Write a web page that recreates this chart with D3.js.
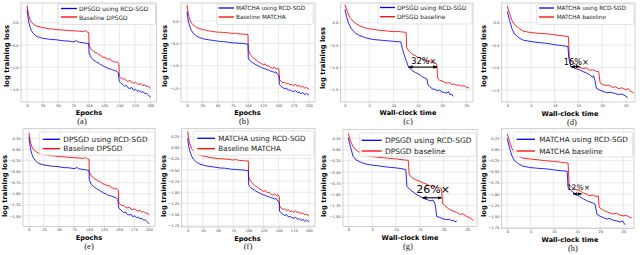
<!DOCTYPE html>
<html>
<head>
<meta charset="utf-8">
<script src="https://cdn.jsdelivr.net/npm/d3@7"></script>
<style>
  body { margin: 0; background: #fff; }
  svg { display: block; }
</style>
</head>
<body>
<div id="chart"></div>
<script>
// ---- data ----
// DPSGD, loss vs epochs
var dpsgdEpochRcd = [[0,0.29],[1,0.17],[2,0.07],[3,-0.01],[5,-0.11],[7,-0.18],[10,-0.24],[13,-0.28],[16,-0.31],[20,-0.33],[25,-0.35],[30,-0.36],[35,-0.37],[40,-0.38],[45,-0.38],[50,-0.39],[55,-0.4],[60,-0.41],[65,-0.41],[70,-0.42],[75,-0.43],[78,-0.42],[80,-0.4],[82,-0.43],[85,-0.44],[90,-0.45],[95,-0.46],[100,-0.47],[100.5,-0.68],[102,-0.73],[104,-0.79],[107,-0.83],[110,-0.86],[113,-0.89],[116,-0.91],[119,-0.94],[122,-0.96],[125,-0.99],[128,-1.0],[131,-1.03],[134,-1.04],[137,-1.05],[140,-1.07],[143,-1.08],[146,-1.1],[148,-1.13],[149.5,-1.32],[152,-1.36],[155,-1.39],[158,-1.43],[161,-1.41],[164,-1.47],[167,-1.48],[170,-1.46],[173,-1.52],[176,-1.5],[179,-1.54],[182,-1.53],[185,-1.57],[188,-1.55],[191,-1.6],[194,-1.59],[197,-1.63],[200,-1.68]];
var dpsgdEpochBase = [[0,0.38],[1,0.28],[2,0.2],[3,0.14],[5,0.06],[7,0.01],[10,-0.03],[13,-0.06],[16,-0.08],[20,-0.09],[25,-0.11],[30,-0.12],[35,-0.14],[40,-0.14],[45,-0.15],[50,-0.16],[55,-0.16],[60,-0.17],[65,-0.17],[70,-0.18],[75,-0.18],[80,-0.19],[85,-0.19],[90,-0.2],[95,-0.18],[97,-0.21],[100,-0.22],[100.5,-0.5],[102,-0.55],[104,-0.6],[107,-0.63],[110,-0.67],[113,-0.68],[116,-0.72],[119,-0.73],[122,-0.77],[125,-0.78],[128,-0.8],[131,-0.82],[134,-0.81],[137,-0.86],[140,-0.87],[143,-0.89],[146,-0.88],[149,-0.92],[149.5,-1.2],[152,-1.24],[155,-1.27],[158,-1.26],[161,-1.31],[164,-1.32],[167,-1.3],[170,-1.35],[173,-1.36],[176,-1.34],[179,-1.38],[182,-1.39],[185,-1.37],[188,-1.42],[191,-1.4],[194,-1.44],[197,-1.43],[200,-1.48]];

// MATCHA, loss vs epochs
var matchaEpochRcd = [[0,0.21],[1,0.09],[2,0.0],[3,-0.06],[5,-0.14],[7,-0.21],[10,-0.27],[13,-0.31],[16,-0.34],[20,-0.37],[25,-0.39],[30,-0.41],[35,-0.42],[40,-0.43],[45,-0.44],[50,-0.45],[55,-0.46],[60,-0.46],[65,-0.47],[70,-0.48],[75,-0.49],[80,-0.49],[85,-0.5],[90,-0.5],[95,-0.51],[100,-0.52],[100.5,-0.82],[102,-0.87],[104,-0.9],[107,-0.93],[110,-0.95],[113,-0.98],[116,-1.0],[119,-1.02],[122,-1.04],[125,-1.06],[128,-1.07],[131,-1.09],[134,-1.1],[137,-1.12],[140,-1.13],[143,-1.15],[146,-1.14],[149,-1.2],[151,-1.24],[151.5,-1.42],[154,-1.46],[157,-1.49],[160,-1.52],[163,-1.5],[166,-1.55],[169,-1.54],[172,-1.57],[175,-1.58],[178,-1.56],[181,-1.6],[184,-1.59],[187,-1.63],[190,-1.6],[193,-1.65],[196,-1.62],[200,-1.66]];
var matchaEpochBase = [[0,0.36],[1,0.25],[2,0.16],[3,0.1],[5,0.02],[7,-0.04],[10,-0.09],[13,-0.12],[16,-0.15],[20,-0.17],[25,-0.19],[30,-0.2],[35,-0.22],[40,-0.23],[45,-0.24],[50,-0.25],[55,-0.25],[60,-0.26],[65,-0.26],[70,-0.27],[75,-0.28],[80,-0.27],[85,-0.29],[90,-0.29],[95,-0.3],[100,-0.3],[100.5,-0.64],[102,-0.7],[104,-0.76],[107,-0.8],[110,-0.84],[113,-0.87],[116,-0.9],[119,-0.93],[122,-0.95],[125,-0.98],[128,-0.96],[131,-1.01],[134,-1.0],[137,-1.04],[140,-1.06],[143,-1.03],[146,-1.08],[149,-1.05],[151,-1.1],[151.5,-1.3],[154,-1.35],[157,-1.38],[160,-1.37],[163,-1.41],[166,-1.39],[169,-1.43],[172,-1.42],[175,-1.45],[178,-1.41],[181,-1.46],[184,-1.44],[187,-1.48],[190,-1.46],[193,-1.5],[196,-1.49],[200,-1.53]];

// DPSGD, loss vs wall-clock time (top row)
var dpsgdTimeRcd = [[0,0.3],[0.3,0.15],[0.7,0.0],[1.2,-0.12],[2,-0.22],[3,-0.29],[4,-0.33],[5,-0.36],[6,-0.38],[7,-0.39],[8,-0.4],[9,-0.41],[10,-0.42],[11,-0.43],[11.5,-0.43],[11.8,-0.58],[12.2,-0.72],[12.6,-0.85],[13.1,-1.0],[13.5,-1.05],[14,-1.09],[14.5,-1.12],[15,-1.15],[15.5,-1.18],[16,-1.22],[16.5,-1.25],[16.9,-1.27],[17.1,-1.4],[17.5,-1.44],[18,-1.49],[18.5,-1.5],[19,-1.53],[19.5,-1.52],[20,-1.56],[20.5,-1.57],[21,-1.59],[21.3,-1.55],[21.6,-1.62],[22,-1.61],[22.3,-1.66]];
var dpsgdTimeBase = [[0,0.4],[0.5,0.25],[1,0.12],[2,0.0],[3,-0.07],[4,-0.11],[5,-0.14],[6,-0.15],[7,-0.17],[8,-0.18],[9,-0.19],[10,-0.2],[11,-0.2],[12,-0.21],[12.6,-0.22],[12.7,-0.55],[13,-0.62],[13.5,-0.67],[14,-0.72],[14.5,-0.74],[15,-0.78],[15.5,-0.79],[16,-0.82],[16.5,-0.84],[17,-0.87],[17.5,-0.86],[18,-0.9],[18.5,-0.91],[18.9,-0.93],[19.1,-1.25],[19.5,-1.3],[20,-1.31],[20.5,-1.34],[21,-1.36],[21.5,-1.35],[22,-1.39],[22.5,-1.38],[23,-1.41],[23.5,-1.4],[24,-1.43],[24.5,-1.42],[25,-1.45],[25.6,-1.47]];

// MATCHA, loss vs wall-clock time (top row)
var matchaTimeRcd = [[0,0.25],[0.5,0.05],[1,-0.14],[1.5,-0.25],[2.5,-0.34],[3.4,-0.39],[5,-0.42],[6.5,-0.44],[8.3,-0.46],[10,-0.49],[11.5,-0.51],[12.8,-0.53],[13,-0.8],[13.4,-0.97],[14,-1.0],[14.6,-1.03],[15.3,-1.05],[16,-1.09],[16.7,-1.12],[17.4,-1.16],[18,-1.22],[18.2,-1.18],[18.5,-1.28],[18.8,-1.46],[19.5,-1.5],[20.2,-1.53],[21,-1.56],[21.8,-1.55],[22.8,-1.58],[23.5,-1.6],[24.2,-1.59],[24.9,-1.63],[25.4,-1.67]];
var matchaTimeBase = [[0,0.37],[0.5,0.2],[1,0.05],[1.5,-0.04],[2.5,-0.13],[3.4,-0.19],[5,-0.22],[7,-0.24],[8.5,-0.25],[10,-0.27],[11.5,-0.29],[12.9,-0.31],[13.1,-0.78],[13.5,-0.85],[14,-0.9],[14.5,-0.93],[15.3,-1.0],[16,-1.02],[16.7,-1.01],[17.4,-1.06],[18,-1.05],[18.7,-1.08],[19.3,-1.09],[19.6,-1.34],[20,-1.37],[20.7,-1.4],[21.5,-1.39],[22.2,-1.44],[22.8,-1.43],[23.5,-1.47],[24.2,-1.45],[24.9,-1.49],[25.5,-1.47],[26.1,-1.53],[26.7,-1.57]];

// DPSGD, loss vs wall-clock time (bottom row)
var dpsgdTimeRcd2 = [[0,0.26],[0.5,0.05],[1,-0.15],[1.5,-0.22],[2.5,-0.28],[3.5,-0.32],[4.5,-0.34],[6,-0.36],[8,-0.39],[10,-0.41],[11.3,-0.43],[12.1,-0.45],[12.3,-0.82],[12.8,-0.88],[13.6,-0.95],[14.4,-1.01],[15.1,-1.05],[15.8,-1.09],[16.5,-1.12],[17.3,-1.15],[17.8,-1.13],[18.2,-1.2],[18.6,-1.5],[19.2,-1.52],[19.9,-1.55],[20.7,-1.57],[21.3,-1.56],[21.8,-1.6],[22.1,-1.58],[22.4,-1.62],[22.8,-1.6]];
var dpsgdTimeBase2 = [[0,0.36],[0.5,0.18],[1,0.07],[1.7,-0.02],[2.5,-0.07],[3.5,-0.12],[4.5,-0.15],[6,-0.17],[8,-0.19],[10,-0.21],[11.5,-0.23],[12.6,-0.24],[12.8,-0.56],[13.3,-0.62],[14,-0.67],[15,-0.71],[15.6,-0.74],[16.3,-0.77],[17.2,-0.82],[17.8,-0.81],[18.5,-0.85],[19.2,-0.86],[19.6,-0.88],[19.8,-1.2],[20.3,-1.26],[21,-1.32],[22,-1.38],[22.7,-1.4],[23.4,-1.45],[24.1,-1.44],[24.9,-1.5],[25.6,-1.53],[26.3,-1.59]];

// MATCHA, loss vs wall-clock time (bottom row)
var matchaTimeRcd2 = [[0,0.24],[0.5,0.02],[1,-0.15],[1.5,-0.25],[2.5,-0.33],[3.4,-0.38],[5,-0.41],[7,-0.43],[8.5,-0.44],[10,-0.46],[11.5,-0.48],[12.9,-0.49],[13.1,-0.86],[13.8,-0.93],[14.4,-0.98],[14.9,-1.01],[15.6,-1.06],[16.4,-1.11],[17.1,-1.15],[17.8,-1.18],[18.4,-1.2],[18.9,-1.23],[19.3,-1.45],[20,-1.5],[20.7,-1.53],[21.4,-1.56],[22.1,-1.55],[22.8,-1.59],[23.5,-1.6],[24.3,-1.63],[24.8,-1.6],[25.4,-1.69]];
var matchaTimeBase2 = [[0,0.34],[0.5,0.17],[1,0.02],[1.5,-0.08],[2.5,-0.16],[3.4,-0.2],[5,-0.22],[7,-0.24],[8.5,-0.26],[10,-0.27],[11.5,-0.29],[13.1,-0.31],[13.3,-0.79],[14,-0.86],[14.8,-0.9],[15.7,-0.93],[16.4,-0.98],[17.1,-1.01],[17.8,-1.04],[18.5,-1.02],[19.1,-1.06],[19.6,-1.04],[19.8,-1.3],[20.5,-1.35],[21.2,-1.39],[22,-1.42],[22.8,-1.45],[23.5,-1.43],[24.2,-1.47],[25,-1.49],[25.7,-1.48],[26.3,-1.52],[26.8,-1.54]];

// ticks
var epochTicks = [0, 25, 50, 75, 100, 125, 150, 175, 200];
var timeTicks = [0, 5, 10, 15, 20, 25];
var lossTicksCoarse = [0, -0.5, -1, -1.5];
var lossTicksFine = [0.25, 0, -0.25, -0.5, -0.75, -1, -1.25, -1.5];
var lossTicksFine2 = [0.25, 0, -0.25, -0.5, -0.75, -1, -1.25, -1.5, -1.75];

// speed-up annotations: [label, x from, x to, loss level]
var speedupC = ["32%\u00d7", 13.1, 19.0, -1.0];
var speedupD = ["16%\u00d7", 13.4, 15.3, -0.98];
var speedupG = ["26%\u00d7", 15.6, 19.6, -1.08];
var speedupH = ["12%\u00d7", 14.2, 16.0, -1.0];

// ---- layout ----
var W = 640, H = 255;
var BLUE = "#0000ff", RED = "#ff0000";

var svg = d3.select("#chart").append("svg")
  .attr("width", W).attr("height", H)
  .style("font-family", "'DejaVu Sans', sans-serif");

var defs = svg.append("defs");
defs.append("marker").attr("id", "ahead")
  .attr("viewBox", "0 0 10 10").attr("refX", 9).attr("refY", 5)
  .attr("markerWidth", 4).attr("markerHeight", 4)
  .attr("orient", "auto-start-reverse")
  .append("path").attr("d", "M0,1 L10,5 L0,9 z").attr("fill", "#000");

var fmt1 = function(d) { return d3.format(".1f")(d); };
var fmt2 = function(d) { return d3.format(".2f")(d); };

var panels = [
  { box: [21, 3, 156.5, 102], xDom: [-10, 210], yDom: [-1.786, 0.444], xTicks: epochTicks, yTicks: lossTicksCoarse, yFmt: fmt1,
    xLabel: "Epochs", xLabelX: 89, xLabelY: 113, cap: "(a)", capX: 82, capY: 121, yLabelX: 7, yLabelY: 56,
    blue: dpsgdEpochRcd, red: dpsgdEpochBase, blueName: "DPSGD using RCD-SGD", redName: "Baseline DPSGD",
    leg: { x0: 58, x1: 155.5, y0: 4, y1: 24.5, l0: 61, l1: 77, tx: 79, rows: [8.5, 17], fs: 6.0 } },
  { box: [181, 3, 315, 102], xDom: [-10, 210], yDom: [-1.813, 0.403], xTicks: epochTicks, yTicks: lossTicksCoarse, yFmt: fmt1,
    xLabel: "Epochs", xLabelX: 247.5, xLabelY: 113, cap: "(b)", capX: 244, capY: 121, yLabelX: 165, yLabelY: 56,
    blue: matchaEpochRcd, red: matchaEpochBase, blueName: "MATCHA using RCD-SGD", redName: "Baseline MATCHA",
    leg: { x0: 216.7, x1: 313, y0: 4, y1: 24.5, l0: 218.5, l1: 234, tx: 236, rows: [8, 17], fs: 5.7 } },
  { box: [340.7, 3, 473, 102], xDom: [-0.88, 26.37], yDom: [-1.786, 0.444], xTicks: timeTicks, yTicks: lossTicksCoarse, yFmt: fmt1,
    xLabel: "Wall-clock time", xLabelX: 408, xLabelY: 113, cap: "(c)", capX: 408, capY: 120.5, yLabelX: 323, yLabelY: 58,
    blue: dpsgdTimeRcd, red: dpsgdTimeBase, blueName: "DPSGD using RCD-SGD", redName: "DPSGD baseline",
    leg: { x0: 378, x1: 472, y0: 4, y1: 24, l0: 380, l1: 395, tx: 397, rows: [7.5, 16.7], fs: 6.0 },
    ann: speedupC, annFs: 8.2, annDy: -6 },
  { box: [501.7, 3, 635, 102], xDom: [-1.18, 26.96], yDom: [-1.767, 0.439], xTicks: timeTicks, yTicks: lossTicksCoarse, yFmt: fmt1,
    xLabel: "Wall-clock time", xLabelX: 570, xLabelY: 114, cap: "(d)", capX: 572, capY: 122, yLabelX: 483.5, yLabelY: 56,
    blue: matchaTimeRcd, red: matchaTimeBase, blueName: "MATCHA using RCD-SGD", redName: "MATCHA baseline",
    leg: { x0: 536.7, x1: 634, y0: 4, y1: 24.5, l0: 539, l1: 554, tx: 556.7, rows: [8, 17], fs: 5.7 },
    ann: speedupD, annFs: 8.2, annDy: -5 },
  { box: [23, 128.7, 155, 226.5], xDom: [-10, 210], yDom: [-1.741, 0.473], xTicks: epochTicks, yTicks: lossTicksFine, yFmt: fmt2,
    xLabel: "Epochs", xLabelX: 89, xLabelY: 238, cap: "(e)", capX: 89, capY: 245.5, yLabelX: 4.5, yLabelY: 186,
    blue: dpsgdEpochRcd, red: dpsgdEpochBase, blueName: "DPSGD using RCD-SGD", redName: "Baseline DPSGD",
    leg: { x0: 39.3, x1: 155, y0: 132, y1: 155.3, l0: 42.7, l1: 60, tx: 63.3, rows: [139.3, 148.7], fs: 7.3 } },
  { box: [181.7, 128.7, 315, 227], xDom: [-10, 210], yDom: [-1.776, 0.42], xTicks: epochTicks, yTicks: lossTicksFine2, yFmt: fmt2,
    xLabel: "Epochs", xLabelX: 247.5, xLabelY: 238.5, cap: "(f)", capX: 248, capY: 246, yLabelX: 164, yLabelY: 186,
    blue: matchaEpochRcd, red: matchaEpochBase, blueName: "MATCHA using RCD-SGD", redName: "Baseline MATCHA",
    leg: { x0: 193.3, x1: 314, y0: 131, y1: 155.3, l0: 197.3, l1: 215, tx: 218.3, rows: [138.3, 148.7], fs: 7.2 } },
  { box: [343, 129.5, 477, 226.5], xDom: [-1.11, 27.04], yDom: [-1.723, 0.449], xTicks: timeTicks, yTicks: lossTicksFine, yFmt: fmt2,
    xLabel: "Wall-clock time", xLabelX: 410, xLabelY: 238, cap: "(g)", capX: 408, capY: 245.5, yLabelX: 324, yLabelY: 186,
    blue: dpsgdTimeRcd2, red: dpsgdTimeBase2, blueName: "DPSGD using RCD-SGD", redName: "DPSGD baseline",
    leg: { x0: 359.3, x1: 476, y0: 133, y1: 156.5, l0: 361.7, l1: 381.7, tx: 385, rows: [140.3, 151], fs: 7.5 },
    ann: speedupG, annFs: 11, annDy: -8 },
  { box: [501.7, 128.7, 634, 228.5], xDom: [-1.21, 27.3], yDom: [-1.773, 0.46], xTicks: timeTicks, yTicks: lossTicksFine2, yFmt: fmt2,
    xLabel: "Wall-clock time", xLabelX: 570, xLabelY: 240, cap: "(h)", capX: 573, capY: 247.5, yLabelX: 483.5, yLabelY: 186,
    blue: matchaTimeRcd2, red: matchaTimeBase2, blueName: "MATCHA using RCD-SGD", redName: "MATCHA baseline",
    leg: { x0: 513.3, x1: 632.7, y0: 132, y1: 157, l0: 516.7, l1: 535, tx: 539.3, rows: [139.3, 151], fs: 7.3 },
    ann: speedupH, annFs: 7.6, annDy: -6 }
];

var drawPanel = function(p) {
  var x = d3.scaleLinear().domain(p.xDom).range([p.box[0], p.box[2]]);
  var y = d3.scaleLinear().domain(p.yDom).range([p.box[3], p.box[1]]);
  var g = svg.append("g");

  g.append("rect")
    .attr("x", p.box[0]).attr("y", p.box[1])
    .attr("width", p.box[2] - p.box[0]).attr("height", p.box[3] - p.box[1])
    .attr("fill", "#fff");

  // grid
  g.selectAll(".gx").data(p.xTicks).enter().append("line")
    .attr("x1", function(d) { return x(d); }).attr("x2", function(d) { return x(d); })
    .attr("y1", p.box[1]).attr("y2", p.box[3])
    .attr("stroke", "#dcdcdc").attr("stroke-width", 0.6);
  g.selectAll(".gy").data(p.yTicks).enter().append("line")
    .attr("x1", p.box[0]).attr("x2", p.box[2])
    .attr("y1", function(d) { return y(d); }).attr("y2", function(d) { return y(d); })
    .attr("stroke", "#dcdcdc").attr("stroke-width", 0.6);

  // axes
  var xAxis = d3.axisBottom(x).tickValues(p.xTicks).tickSize(1.2).tickPadding(1).tickFormat(d3.format("d"));
  var yAxis = d3.axisLeft(y).tickValues(p.yTicks).tickSize(1.2).tickPadding(1.2).tickFormat(p.yFmt);
  var gx = g.append("g").attr("transform", "translate(0," + p.box[3] + ")").call(xAxis);
  var gy = g.append("g").attr("transform", "translate(" + p.box[0] + ",0)").call(yAxis);
  [gx, gy].forEach(function(a) {
    a.select(".domain").remove();
    a.selectAll(".tick line").attr("stroke", "#888").attr("stroke-width", 0.5);
    a.selectAll(".tick text").attr("font-size", 3.6).attr("fill", "#333")
      .attr("font-family", "'DejaVu Sans', sans-serif");
  });

  // lines
  var line = d3.line().x(function(d) { return x(d[0]); }).y(function(d) { return y(d[1]); });
  g.append("path").datum(p.red).attr("d", line)
    .attr("fill", "none").attr("stroke", RED).attr("stroke-width", 0.85);
  g.append("path").datum(p.blue).attr("d", line)
    .attr("fill", "none").attr("stroke", BLUE).attr("stroke-width", 0.85);

  // frame
  g.append("rect")
    .attr("x", p.box[0]).attr("y", p.box[1])
    .attr("width", p.box[2] - p.box[0]).attr("height", p.box[3] - p.box[1])
    .attr("fill", "none").attr("stroke", "#bdbdbd").attr("stroke-width", 0.7);

  // speed-up annotation
  if (p.ann) {
    var a = p.ann;
    g.append("line")
      .attr("x1", x(a[1])).attr("x2", x(a[2]))
      .attr("y1", y(a[3])).attr("y2", y(a[3]))
      .attr("stroke", "#000").attr("stroke-width", 1.1)
      .attr("marker-start", "url(#ahead)").attr("marker-end", "url(#ahead)");
    g.append("text")
      .attr("x", (x(a[1]) + x(a[2])) / 2 + 1).attr("y", y(a[3]) + p.annDy)
      .attr("text-anchor", "middle").attr("dominant-baseline", "central")
      .attr("font-size", p.annFs).attr("fill", "#000")
      .text(a[0]);
  }

  // legend
  var L = p.leg;
  g.append("rect")
    .attr("x", L.x0).attr("y", L.y0).attr("width", L.x1 - L.x0).attr("height", L.y1 - L.y0)
    .attr("rx", 1.5).attr("fill", "#fff").attr("fill-opacity", 0.85)
    .attr("stroke", "#d0d0d0").attr("stroke-width", 0.6);
  var entries = [[p.blueName, BLUE], [p.redName, RED]];
  entries.forEach(function(e, i) {
    g.append("line").attr("x1", L.l0).attr("x2", L.l1)
      .attr("y1", L.rows[i]).attr("y2", L.rows[i])
      .attr("stroke", e[1]).attr("stroke-width", 1.3);
    g.append("text").attr("x", L.tx).attr("y", L.rows[i])
      .attr("dominant-baseline", "central")
      .attr("font-size", L.fs).attr("fill", "#222")
      .text(e[0]);
  });

  // labels
  g.append("text")
    .attr("x", p.xLabelX).attr("y", p.xLabelY)
    .attr("text-anchor", "middle").attr("dominant-baseline", "central")
    .attr("font-size", 6.6).attr("font-weight", "bold").attr("fill", "#000")
    .text(p.xLabel);
  g.append("text")
    .attr("transform", "translate(" + p.yLabelX + "," + p.yLabelY + ") rotate(-90)")
    .attr("text-anchor", "middle").attr("dominant-baseline", "central")
    .attr("font-size", 6.8).attr("font-weight", "bold").attr("fill", "#000")
    .text("log training loss");
  g.append("text")
    .attr("x", p.capX).attr("y", p.capY)
    .attr("text-anchor", "middle").attr("dominant-baseline", "central")
    .attr("font-family", "'Liberation Serif', serif")
    .attr("font-size", 8.5).attr("fill", "#111")
    .text(p.cap);
};

panels.forEach(drawPanel);
</script>
</body>
</html>
